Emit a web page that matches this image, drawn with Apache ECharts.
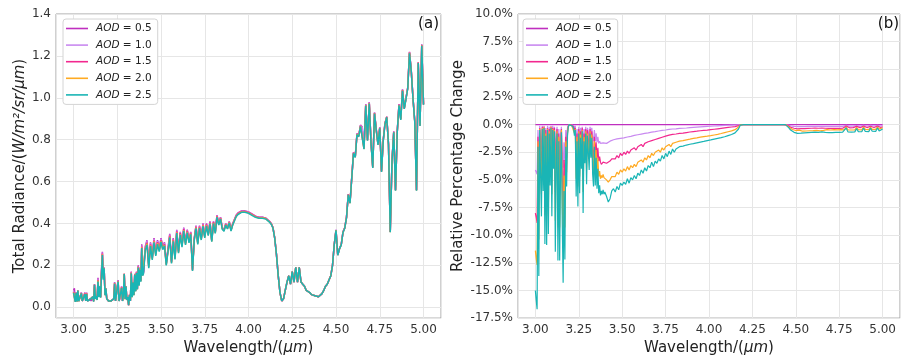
<!DOCTYPE html>
<html>
<head>
<meta charset="utf-8">
<script src="https://cdn.jsdelivr.net/npm/echarts@6/dist/echarts.min.js"></script>
<style>
html,body{margin:0;padding:0;background:#fff;}
#chart{width:901px;height:361px;}
</style>
</head>
<body>
<div id="chart"></div>
<script>
// Wavelength sampling grid (µm): 3.000..3.395 every 0.005, then 3.40..5.00 every 0.01
const wavelength = [];
for (let i = 0; i < 80; i++) wavelength.push(+(3.0 + i * 0.005).toFixed(3));
for (let i = 0; i <= 160; i++) wavelength.push(+(3.4 + i * 0.01).toFixed(2));

const aodLabels = ['0.5', '1.0', '1.5', '2.0', '2.5'];
const xTicks = [3.00, 3.25, 3.50, 3.75, 4.00, 4.25, 4.50, 4.75, 5.00];

// Total radiance for AOD = 0.5 (W/m²/sr/µm)
const radiance05 = [
// 3.000 - 3.395 (step 0.005)
0.08,0.09,0.03,0.07,0.03,0.08,0.03,0.035,0.03,0.07,
0.03,0.035,0.03,0.07,0.03,0.07,0.03,0.035,0.03,0.04,
0.03,0.035,0.05,0.03,0.11,0.04,0.06,0.035,0.14,0.05,
0.10,0.05,0.18,0.265,0.15,0.19,0.06,0.09,0.04,0.035,
0.03,0.035,0.03,0.03,0.035,0.03,0.04,0.12,0.03,0.035,
0.03,0.13,0.03,0.04,0.035,0.10,0.03,0.06,0.16,0.04,
0.10,0.035,0.05,0.01,0.06,0.03,0.17,0.05,0.12,0.06,
0.16,0.08,0.17,0.09,0.20,0.11,0.19,0.13,0.30,0.16,
// 3.40 - 5.00 (step 0.01)
0.17,0.29,0.32,0.20,0.31,0.24,0.33,0.26,0.32,0.28,
0.33,0.29,0.31,0.21,0.28,0.35,0.22,0.33,0.24,0.37,
0.27,0.36,0.30,0.38,0.31,0.37,0.32,0.36,0.18,0.33,
0.39,0.31,0.39,0.33,0.40,0.34,0.40,0.35,0.41,0.32,
0.41,0.36,0.44,0.40,0.43,0.38,0.37,0.40,0.38,0.41,
0.37,0.40,0.42,0.44,0.45,0.455,0.46,0.46,0.46,0.46,
0.455,0.45,0.445,0.44,0.435,0.44,0.43,0.425,0.43,0.425,
0.425,0.42,0.41,0.40,0.38,0.33,0.25,0.15,0.07,0.03,
0.04,0.08,0.12,0.15,0.11,0.17,0.12,0.19,0.12,0.19,
0.12,0.11,0.10,0.08,0.075,0.07,0.06,0.06,0.055,0.05,
0.05,0.055,0.065,0.08,0.10,0.11,0.13,0.15,0.20,0.30,
0.37,0.25,0.28,0.30,0.36,0.38,0.43,0.54,0.50,0.62,
0.74,0.72,0.83,0.82,0.87,0.86,0.76,0.97,0.80,0.98,
0.79,0.67,0.93,0.85,0.78,0.86,0.65,0.80,0.88,0.91,
0.78,0.36,0.70,0.84,0.56,0.84,0.97,0.90,1.04,0.95,
1.00,1.05,1.22,1.13,1.00,0.89,0.56,1.17,0.87,1.255,
0.97
];

// Relative percentage change vs AOD = 0.5 (%)
const pct05 = [
0,0,0,0,0,0,0,0,0,0, 0,0,0,0,0,0,0,0,0,0, 0,0,0,0,0,0,0,0,0,0, 0,0,0,0,0,0,0,0,0,0,
0,0,0,0,0,0,0,0,0,0, 0,0,0,0,0,0,0,0,0,0, 0,0,0,0,0,0,0,0,0,0, 0,0,0,0,0,0,0,0,0,0,
0,0,0,0,0,0,0,0,0,0, 0,0,0,0,0,0,0,0,0,0, 0,0,0,0,0,0,0,0,0,0, 0,0,0,0,0,0,0,0,0,0,
0,0,0,0,0,0,0,0,0,0, 0,0,0,0,0,0,0,0,0,0, 0,0,0,0,0,0,0,0,0,0, 0,0,0,0,0,0,0,0,0,0,
0,0,0,0,0,0,0,0,0,0, 0,0,0,0,0,0,0,0,0,0, 0,0,0,0,0,0,0,0,0,0, 0,0,0,0,0,0,0,0,0,0,
0,0,0,0,0,0,0,0,0,0, 0,0,0,0,0,0,0,0,0,0, 0,0,0,0,0,0,0,0,0,0, 0,0,0,0,0,0,0,0,0,0,
0
];
const pct10 = [
-4.1,-4.3,-4.5,-0.5,-3.7,-0.1,-1.2,-2.2,-0.1,-1.6,
-0.1,-2.9,-0.3,-2.9,-0.1,-2.7,-0.2,-1.5,-0.1,-2.2,
-0.1,-1.1,-0.2,-3.1,-0.8,-0.2,-3.3,-0.4,-3.3,-1.1,
-0.2,-2.4,-3.9,-1.6,-3.3,-0.5,-1.5,-0.3,-0.1,0,
0,0,0,0,-0.1,-0.3,-0.1,-1.8,-0.4,-2.0,
-0.2,-1.7,-0.3,-1.1,-0.2,-2.2,-0.4,-0.9,-0.2,-1.5,
-0.3,-0.7,-1.1,-0.2,-0.8,-0.3,-1.2,-1.5,-0.5,-1.5,
-0.8,-1.6,-1.1,-1.7,-1.5,-1.7,-1.7,-1.7,-1.65,-1.65,
-1.6,-1.7,-1.6,-1.5,-1.45,-1.37,-1.42,-1.3,-1.36,-1.24,
-1.3,-1.2,-1.25,-1.12,-1.18,-1.06,-1.1,-0.98,-1.02,-0.92,
-0.96,-0.86,-0.9,-0.8,-0.84,-0.75,-0.78,-0.68,-0.72,-0.64,
-0.67,-0.58,-0.62,-0.53,-0.56,-0.49,-0.52,-0.44,-0.47,-0.4,
-0.43,-0.38,-0.4,-0.35,-0.37,-0.33,-0.32,-0.31,-0.3,-0.28,
-0.27,-0.25,-0.24,-0.23,-0.22,-0.21,-0.2,-0.19,-0.18,-0.17,
-0.16,-0.15,-0.14,-0.13,-0.12,-0.11,-0.1,-0.09,-0.08,-0.07,
-0.06,-0.06,-0.05,-0.05,-0.04,-0.04,-0.03,-0.02,0,0,
0,0,0,0,0,0,0,0,0,0,
0,0,0,0,0,0,0,0,0,0,
0,0,0,0,0,-0.03,-0.07,-0.12,-0.15,-0.17,
-0.18,-0.19,-0.16,-0.18,-0.2,-0.18,-0.19,-0.17,-0.18,-0.16,
-0.18,-0.16,-0.17,-0.16,-0.18,-0.15,-0.17,-0.16,-0.15,-0.17,
-0.16,-0.17,-0.15,-0.16,-0.15,-0.17,-0.15,-0.16,-0.15,-0.07,
-0.15,-0.14,-0.16,-0.14,-0.15,-0.08,-0.15,-0.14,-0.15,-0.07,
-0.14,-0.13,-0.15,-0.07,-0.14,-0.13,-0.14,-0.07,-0.13,-0.13,
-0.09
];
const pct15 = [
-8.0,-8.4,-8.9,-1.1,-7.3,-0.3,-2.4,-4.4,-0.2,-3.2,
-0.2,-5.7,-0.5,-5.8,-0.3,-5.2,-0.4,-2.9,-0.2,-4.4,
-0.3,-2.1,-0.3,-6.1,-1.6,-0.4,-6.5,-0.8,-6.5,-2.1,
-0.4,-4.8,-7.6,-3.2,-6.5,-1.1,-3.0,-0.5,-0.1,0,
0,0,-0.1,0,-0.2,-0.5,-0.3,-3.4,-0.8,-3.9,
-0.4,-3.3,-0.6,-2.1,-0.3,-4.2,-0.8,-1.9,-0.4,-2.9,
-0.5,-1.3,-2.2,-0.4,-1.6,-0.6,-2.4,-3.0,-1.1,-2.9,
-1.6,-3.1,-2.1,-3.3,-2.9,-3.4,-3.6,-3.5,-3.4,-3.4,
-3.3,-3.5,-3.6,-3.3,-3.1,-3.0,-3.1,-2.8,-3.0,-2.6,
-2.8,-2.5,-2.7,-2.4,-2.6,-2.3,-2.4,-2.1,-2.3,-2.0,
-2.1,-1.8,-2.0,-1.7,-1.85,-1.55,-1.7,-1.45,-1.6,-1.35,
-1.45,-1.25,-1.35,-1.15,-1.25,-1.05,-1.15,-0.95,-1.05,-0.88,
-0.98,-0.85,-0.9,-0.8,-0.83,-0.77,-0.75,-0.72,-0.7,-0.67,
-0.65,-0.63,-0.61,-0.6,-0.58,-0.56,-0.55,-0.53,-0.52,-0.5,
-0.48,-0.46,-0.44,-0.42,-0.4,-0.38,-0.36,-0.34,-0.32,-0.3,
-0.28,-0.26,-0.24,-0.22,-0.2,-0.18,-0.15,-0.1,-0.02,0,
0,0,0,0,0,0,0,0,0,0,
0,0,0,0,0,0,0,0,0,0,
0,0,0,0,0,-0.05,-0.15,-0.24,-0.3,-0.33,
-0.36,-0.38,-0.33,-0.37,-0.4,-0.36,-0.38,-0.34,-0.37,-0.33,
-0.36,-0.32,-0.35,-0.33,-0.37,-0.31,-0.34,-0.33,-0.3,-0.34,
-0.32,-0.34,-0.3,-0.33,-0.31,-0.34,-0.3,-0.33,-0.31,-0.14,
-0.31,-0.29,-0.32,-0.28,-0.31,-0.16,-0.3,-0.28,-0.31,-0.14,
-0.29,-0.27,-0.3,-0.15,-0.28,-0.26,-0.29,-0.14,-0.27,-0.26,
-0.19
];
const pct20 = [
-11.4,-12.1,-12.7,-1.5,-10.4,-0.4,-3.4,-6.3,-0.3,-4.6,
-0.2,-8.2,-0.8,-8.3,-0.4,-7.5,-0.6,-4.2,-0.2,-6.3,
-0.4,-3.0,-0.5,-8.7,-2.3,-0.6,-9.3,-1.1,-9.3,-3.0,
-0.5,-6.8,-10.9,-4.6,-9.3,-1.5,-4.3,-0.8,-0.2,0,
0,0,-0.1,0,-0.2,-0.8,-0.4,-4.9,-1.1,-5.6,
-0.6,-4.7,-0.9,-3.0,-0.5,-6.1,-1.1,-2.7,-0.6,-4.1,
-0.8,-1.9,-3.1,-0.6,-2.3,-0.9,-3.4,-4.3,-1.5,-4.2,
-2.3,-4.4,-3.0,-4.7,-4.2,-4.9,-4.6,-4.8,-4.5,-4.8,
-4.8,-5.0,-5.2,-5.0,-4.7,-4.6,-4.7,-4.3,-4.5,-4.1,
-4.3,-4.0,-4.2,-3.8,-4.1,-3.7,-3.9,-3.6,-3.8,-3.4,
-3.5,-3.2,-3.4,-3.0,-3.2,-2.8,-3.0,-2.6,-2.8,-2.5,
-2.6,-2.3,-2.5,-2.1,-2.3,-2.0,-2.1,-1.8,-2.0,-1.7,
-1.8,-1.6,-1.7,-1.5,-1.55,-1.45,-1.43,-1.38,-1.35,-1.32,
-1.28,-1.25,-1.22,-1.2,-1.17,-1.14,-1.12,-1.09,-1.07,-1.05,
-1.02,-1.0,-0.97,-0.94,-0.91,-0.88,-0.85,-0.81,-0.77,-0.73,
-0.69,-0.65,-0.61,-0.57,-0.52,-0.46,-0.37,-0.22,-0.03,0,
0,0,0,0,0,0,0,0,0,0,
0,0,0,0,0,0,0,0,0,0,
0,0,0,0,0,-0.08,-0.22,-0.36,-0.44,-0.5,
-0.54,-0.58,-0.5,-0.56,-0.6,-0.54,-0.58,-0.52,-0.56,-0.5,
-0.55,-0.49,-0.53,-0.5,-0.56,-0.47,-0.52,-0.5,-0.46,-0.52,
-0.49,-0.52,-0.46,-0.5,-0.47,-0.51,-0.45,-0.5,-0.47,-0.21,
-0.47,-0.44,-0.49,-0.43,-0.47,-0.25,-0.46,-0.43,-0.47,-0.21,
-0.44,-0.41,-0.46,-0.23,-0.43,-0.4,-0.44,-0.21,-0.41,-0.39,
-0.29
];
const pct25 = [
-15.0,-15.9,-16.7,-2.0,-13.7,-0.5,-4.5,-8.3,-0.4,-6.0,
-0.3,-10.8,-1.0,-10.9,-0.5,-9.9,-0.8,-5.5,-0.3,-8.3,
-0.5,-4.0,-0.6,-11.5,-3.0,-0.8,-12.3,-1.5,-12.3,-4.0,
-0.7,-9.0,-14.3,-6.0,-12.2,-2.0,-5.6,-1.0,-0.2,0,
0,0,-0.1,0,-0.3,-1.0,-0.5,-6.5,-1.5,-7.4,
-0.8,-6.2,-1.2,-4.0,-0.6,-8.0,-1.5,-3.5,-0.8,-5.4,
-1.0,-2.5,-4.1,-0.8,-3.0,-1.2,-4.5,-5.6,-2.0,-5.5,
-3.0,-5.8,-4.0,-6.2,-5.5,-6.4,-6.0,-6.3,-5.9,-6.3,
-6.1,-6.5,-7.0,-6.7,-6.0,-5.8,-6.1,-5.6,-5.9,-5.3,
-5.5,-5.2,-5.4,-4.9,-5.3,-4.8,-5.0,-4.6,-4.9,-4.4,
-4.6,-4.1,-4.4,-3.9,-4.2,-3.7,-3.9,-3.4,-3.8,-3.3,
-3.5,-3.1,-3.3,-2.8,-3.1,-2.6,-2.9,-2.4,-2.7,-2.2,
-2.5,-2.2,-2.3,-2.0,-2.1,-1.95,-1.9,-1.85,-1.8,-1.78,
-1.75,-1.72,-1.68,-1.65,-1.62,-1.58,-1.55,-1.52,-1.48,-1.45,
-1.42,-1.39,-1.36,-1.32,-1.29,-1.25,-1.22,-1.18,-1.14,-1.10,
-1.05,-1.0,-0.95,-0.9,-0.83,-0.75,-0.62,-0.4,-0.05,0,
0,0,0,0,0,0,0,0,0,0,
0,0,0,0,0,0,0,0,0,0,
0,0,0,0,0,-0.1,-0.3,-0.5,-0.6,-0.7,
-0.75,-0.8,-0.7,-0.78,-0.82,-0.75,-0.8,-0.72,-0.78,-0.7,
-0.76,-0.68,-0.74,-0.7,-0.77,-0.66,-0.72,-0.7,-0.65,-0.73,
-0.68,-0.72,-0.64,-0.7,-0.66,-0.71,-0.63,-0.69,-0.65,-0.3,
-0.66,-0.62,-0.68,-0.6,-0.66,-0.35,-0.64,-0.6,-0.65,-0.3,
-0.62,-0.58,-0.64,-0.32,-0.6,-0.56,-0.62,-0.3,-0.58,-0.55,
-0.4
];

const pctSeries = [pct05, pct10, pct15, pct20, pct25];
const colors = ['#bf2fbf', '#c98af0', '#f2288f', '#ffaa22', '#1ab5b5'];
const FONT = 'DejaVu Sans';
const names = aodLabels.map(a => 'AOD = ' + a);

const series = [];
pctSeries.forEach((p, k) => {
  // panel (a): radiance for this AOD, from AOD 0.5 radiance and its relative change
  series.push({
    name: names[k], type: 'line', xAxisIndex: 0, yAxisIndex: 0,
    showSymbol: false, animation: false, color: colors[k],
    lineStyle: {width: 1.5, color: colors[k]},
    data: wavelength.map((w, i) => [w, radiance05[i] * (1 + p[i] / 100)])
  });
});
pctSeries.forEach((p, k) => {
  series.push({
    name: names[k], type: 'line', xAxisIndex: 1, yAxisIndex: 1,
    showSymbol: false, animation: false, color: colors[k],
    lineStyle: {width: 1.2, color: colors[k]},
    data: wavelength.map((w, i) => [w, p[i]])
  });
});

const isTick = v => xTicks.some(t => Math.abs(t - v) < 1e-6);

function xAxisCfg(gridIndex) {
  return {
    type: 'value', gridIndex, min: 2.9, max: 5.1,
    minInterval: 0.25, maxInterval: 0.25, splitNumber: 8,
    axisLine: {show: false}, axisTick: {show: false},
    splitLine: {show: true, lineStyle: {color: '#e6e6e6', width: 1}},
    axisLabel: {
      fontFamily: FONT, fontSize: 12, color: '#333', margin: 6,
      showMinLabel: false, showMaxLabel: false,
      formatter: v => isTick(v) ? v.toFixed(2) : ''
    },
    name: '{n|Wavelength/(}{i|μm}{n|)}', nameLocation: 'middle', nameGap: 18,
    nameTextStyle: {
      fontFamily: FONT, fontSize: 15, color: '#222',
      rich: {n: {fontFamily: FONT, fontSize: 15, color: '#222'},
             i: {fontFamily: FONT, fontSize: 15, color: '#222', fontStyle: 'italic'}}
    }
  };
}

function legendCfg(left) {
  return {
    orient: 'vertical', left: left, top: 19,
    data: names,
    icon: 'rect', itemWidth: 22, itemHeight: 1.6, itemGap: 3.6,
    padding: [3, 6, 3, 3],
    backgroundColor: '#fff', borderColor: '#d4d4d4', borderWidth: 1, borderRadius: 3,
    selectedMode: false,
    formatter: n => '{i|AOD} = ' + n.split('= ')[1],
    textStyle: {
      fontFamily: FONT, fontSize: 10.5, color: '#222', lineHeight: 13, padding: [0, 0, 0, 3],
      rich: {i: {fontFamily: FONT, fontSize: 10.5, color: '#222', fontStyle: 'italic'}}
    }
  };
}

const option = {
  backgroundColor: '#fff',
  animation: false,
  grid: [
    {left: 56, right: 460, top: 14, bottom: 39, show: true, borderColor: '#a0a0a0', borderWidth: 1},
    {left: 518, right: 1, top: 14, bottom: 39, show: true, borderColor: '#a0a0a0', borderWidth: 1}
  ],
  xAxis: [xAxisCfg(0), xAxisCfg(1)],
  yAxis: [
    {
      type: 'value', gridIndex: 0, min: -0.052, max: 1.4,
      minInterval: 0.2, maxInterval: 0.2, splitNumber: 7,
      axisLine: {show: false}, axisTick: {show: false},
      splitLine: {show: true, lineStyle: {color: '#e6e6e6', width: 1}},
      axisLabel: {
        fontFamily: FONT, fontSize: 12, color: '#333', margin: 5, showMinLabel: false,
        formatter: v => v < -0.01 ? '' : v.toFixed(1)
      },
      name: '{n|Total Radiance/(}{i|W/m²/sr/μm}{n|)}', nameLocation: 'middle', nameGap: 28,
      nameTextStyle: {
        fontFamily: FONT, fontSize: 15, color: '#222',
        rich: {n: {fontFamily: FONT, fontSize: 15, color: '#222'},
               i: {fontFamily: FONT, fontSize: 15, color: '#222', fontStyle: 'italic'}}
      }
    },
    {
      type: 'value', gridIndex: 1, min: -17.5, max: 10, interval: 2.5,
      axisLine: {show: false}, axisTick: {show: false},
      splitLine: {show: true, lineStyle: {color: '#e6e6e6', width: 1}},
      axisLabel: {
        fontFamily: FONT, fontSize: 12, color: '#333', margin: 5,
        formatter: v => v.toFixed(1) + '%'
      },
      name: 'Relative Percentage Change', nameLocation: 'middle', nameGap: 52,
      nameTextStyle: {fontFamily: FONT, fontSize: 15, color: '#222'}
    }
  ],
  legend: [legendCfg(63), legendCfg(523)],
  graphic: [
    {type: 'text', x: 439, y: 24, style: {text: '(a)', textAlign: 'right', textVerticalAlign: 'middle', font: '15px "DejaVu Sans"', fill: '#111'}},
    {type: 'text', x: 899, y: 24, style: {text: '(b)', textAlign: 'right', textVerticalAlign: 'middle', font: '15px "DejaVu Sans"', fill: '#111'}}
  ],
  series: series
};

const chart = echarts.init(document.getElementById('chart'), null, {renderer: 'canvas'});
chart.setOption(option);
</script>
</body>
</html>
